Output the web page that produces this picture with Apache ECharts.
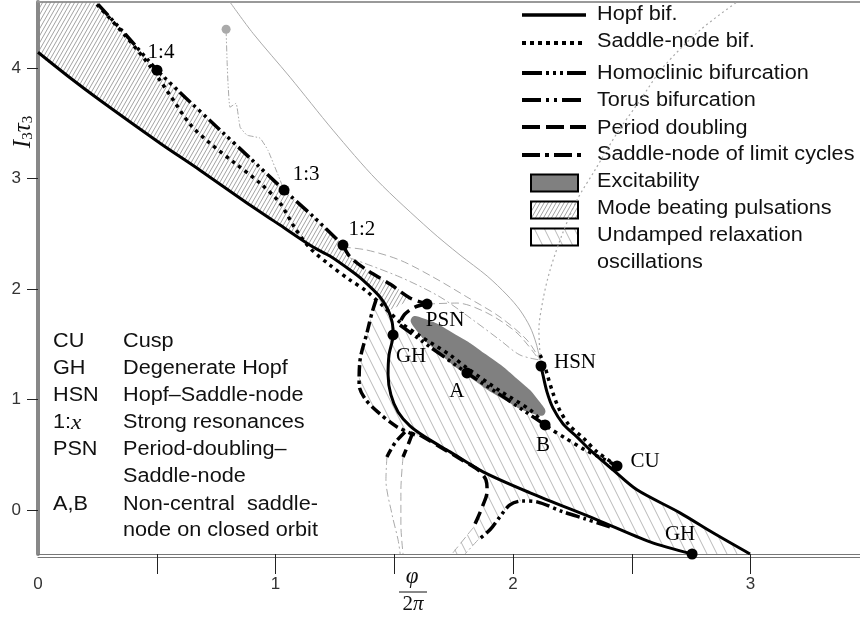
<!DOCTYPE html>
<html>
<head>
<meta charset="utf-8">
<script src="https://cdn.jsdelivr.net/npm/echarts@6.0.0/dist/echarts.min.js"></script>
<style>html,body{margin:0;padding:0;background:#fff}#c{width:860px;height:619px}</style>
</head>
<body>
<div id="c"></div>
<script>
// ---------------- DATA (x = phi/2pi, y = I3*tau3) ----------------
const X_MAX = 3.461, Y_MIN = -0.4, Y_MAX = 4.6;
const xTickValues = [0.5, 1, 1.5, 2, 2.5, 3];
const xLabelValues = [0, 1, 2, 3];
const yTickValues = [0, 1, 2, 3, 4];

const hopfMain = [[0,4.145],[0.143,3.900],[0.261,3.710],[0.514,3.321],[0.682,3.077],[0.863,2.805],[1.019,2.579],[1.158,2.380],[1.229,2.299],[1.314,2.172],[1.368,2.081],[1.440,1.928],[1.474,1.810],[1.491,1.701],[1.495,1.584],[1.478,1.403],[1.474,1.222],[1.486,1.041],[1.516,0.887],[1.566,0.760],[1.629,0.661],[1.735,0.525],[1.874,0.344],[2.072,0.154],[2.354,-0.090],[2.577,-0.290],[2.754,-0.400]];
const hopfRight = [[2.114,1.339],[2.126,1.222],[2.143,1.068],[2.168,0.923],[2.211,0.778],[2.269,0.661],[2.324,0.543],[2.421,0.362],[2.522,0.181],[2.703,-0.027],[2.842,-0.208],[2.998,-0.400]];
const snMain = [[0.248,4.579],[0.366,4.299],[0.472,4.018],[0.556,3.756],[0.640,3.493],[0.724,3.321],[0.829,3.140],[0.935,2.959],[1.019,2.778],[1.082,2.552],[1.145,2.371],[1.229,2.217],[1.314,2.081],[1.377,1.991],[1.453,1.846],[1.524,1.701],[1.608,1.575],[1.735,1.403],[1.806,1.285],[1.945,1.077],[2.072,0.905],[2.147,0.751],[2.219,0.652],[2.303,0.543],[2.379,0.462],[2.438,0.398]];
const snCusp = [[2.438,0.398],[2.354,0.525],[2.295,0.652],[2.236,0.769],[2.194,0.914],[2.168,1.059],[2.147,1.204],[2.131,1.321],[2.114,1.403]];
const snGrey = [[2.114,1.403],[2.109,1.629],[2.126,1.900],[2.156,2.172],[2.206,2.489],[2.269,2.805],[2.345,3.077],[2.438,3.412],[2.535,3.710],[2.632,4.009],[2.787,4.344],[2.943,4.600]];
const homUpper = [[0.253,4.579],[0.379,4.281],[0.501,3.982],[0.619,3.738],[0.754,3.466],[0.893,3.186],[1.036,2.896],[1.166,2.643],[1.284,2.398]];
const homLower = [[1.524,1.674],[1.651,1.475],[1.806,1.240],[1.966,1.014],[2.135,0.769]];
const pdUpper = [[1.284,2.398],[1.314,2.290],[1.385,2.172],[1.482,2.045],[1.566,1.919],[1.638,1.864]];
const pdHook = [[1.638,1.864],[1.587,1.837],[1.545,1.774],[1.524,1.701]];
const pdLower = [[1.608,0.679],[1.693,0.570],[1.785,0.452],[1.853,0.362],[1.886,0.271],[1.891,0.163],[1.874,0.045],[1.848,-0.090],[1.832,-0.163]];
const pdBranch = [[1.579,0.706],[1.558,0.588],[1.537,0.479]];
const snlcLoop = [[1.423,1.900],[1.406,1.783],[1.385,1.602],[1.356,1.357],[1.352,1.131],[1.381,0.995],[1.440,0.869],[1.512,0.751],[1.587,0.679]];
const snlcBranch = [[1.545,0.706],[1.503,0.606],[1.469,0.479]];
const torus = [[2.408,-0.154],[2.303,-0.081],[2.211,-0.018],[2.101,0.072],[2.038,0.081],[1.987,0.045],[1.945,-0.063],[1.903,-0.181],[1.853,-0.271]];

const greySolid = [[0.808,4.600],[0.905,4.317],[1.061,3.919],[1.242,3.439],[1.427,2.986],[1.651,2.534],[1.777,2.308],[1.891,2.118],[1.975,1.946],[2.029,1.810],[2.072,1.656],[2.097,1.511],[2.114,1.357]];
const greyDashed = [[1.284,2.380],[1.385,2.353],[1.524,2.262],[1.663,2.109],[1.806,1.928],[1.945,1.747],[2.059,1.538],[2.114,1.357]];
const greyDashDot = [[1.314,2.281],[1.524,2.109],[1.693,1.928],[1.832,1.719],[1.945,1.538],[2.029,1.403],[2.114,1.357]];
const greyPsn = [[1.638,1.864],[1.764,1.873],[1.891,1.783],[2.017,1.602],[2.101,1.385]];
const greyRes = [[0.792,4.344],[0.796,4.072],[0.800,3.864],[0.808,3.647],[0.834,3.683],[0.851,3.466],[0.880,3.394],[0.935,3.367],[0.968,3.258],[1.011,3.032],[1.036,2.896]];
const greyLeftA = [[1.469,0.479],[1.465,0.271],[1.491,-0.045],[1.516,-0.271],[1.525,-0.400]];
const greyLeftB = [[1.537,0.479],[1.528,0.181],[1.528,-0.136],[1.537,-0.400]];
const greyPd = [[1.832,-0.163],[1.743,-0.400]];
const greyTorus = [[1.853,-0.271],[1.798,-0.400]];
const greyDot = [[0.792,4.353]];

const excitability = [[2.133,0.869],[2.078,0.876],[1.963,0.997],[1.818,1.200],[1.683,1.432],[1.593,1.627],[1.573,1.738],[1.627,1.730],[1.742,1.609],[1.887,1.406],[2.023,1.175],[2.112,0.979]];

const pointNames = ['1:4','1:3','1:2','PSN','GH','A','B','HSN','CU','GH'];
const pointCoords = [[0.501,3.982],[1.036,2.896],[1.284,2.398],[1.638,1.864],[1.495,1.584],[1.806,1.240],[2.135,0.769],[2.118,1.303],[2.438,0.398],[2.754,-0.400]];

const legendNames = ['Hopf bif.','Saddle-node bif.','Homoclinic bifurcation','Torus bifurcation','Period doubling','Saddle-node of limit cycles','Excitability','Mode beating pulsations','Undamped relaxation','oscillations'];
const abbrevKeys = ['CU','GH','HSN','1:x','PSN','','A,B',''];
const abbrevTexts = ['Cusp','Degenerate Hopf','Hopf\u2013Saddle-node','Strong resonances','Period-doubling\u2013','Saddle-node','Non-central  saddle-','node on closed orbit'];

// Regions built from the curves above
const modeBeatingRegion = [[0, Y_MAX],[homUpper[0][0], Y_MAX]]
  .concat(homUpper, pdUpper.slice(1,5), [hopfMain[12]], hopfMain.slice(0,12).reverse());
const undampedRegion = [].concat(
  snlcLoop, hopfMain.slice(20),
  [hopfRight[11]], hopfRight.slice(6,11).reverse(),
  [snMain[22], snMain[21]], homLower.slice().reverse(),
  [hopfMain[13], hopfMain[12], hopfMain[11]]);
const undampedRegion2 = [].concat(
  [hopfMain[22], hopfMain[23]], torus.slice(3),
  [greyTorus[1], greyPd[1]], pdLower.slice(3).reverse());

// ---------------- STYLES ----------------
const SERIF = '"Liberation Serif", "DejaVu Serif", serif';
const SANS = '"Liberation Sans", Arial, sans-serif';
const LS = {
  hopf: {color:'#000', width:3},
  sn: {color:'#000', width:3.5, type:[3.5,4.5]},
  hom: {color:'#000', width:3.5, type:[15,4,3,4,3,4,3,4]},
  torus: {color:'#000', width:3.5, type:[14,4,3,4,3,4]},
  pd: {color:'#000', width:3.5, type:[13,6]},
  snlc: {color:'#000', width:3.5, type:[11,4,3.5,4]},
  gSolid: {color:'#aaa', width:1},
  gDash: {color:'#aaa', width:1, type:[8,4]},
  gDashDot: {color:'#aaa', width:1, type:[8,3,2,3]},
  gDot: {color:'#aaa', width:1.2, type:[2,3]},
  gDDD: {color:'#aaa', width:1, type:[6,2,1.5,2,1.5,2]}
};
const LABEL_OFFSETS = [[4,-18],[22,-16],[19,-16],[18,16],[18,22],[-10,19],[-2,21],[34,-4],[28,-4],[-12,-20]];

function hatch(w, h, color, lw, dir) {
  const c = document.createElement('canvas');
  c.width = w; c.height = h;
  const g = c.getContext('2d');
  g.strokeStyle = color; g.lineWidth = lw;
  g.beginPath();
  for (const k of [-1, 0, 1]) {
    if (dir === '/') { g.moveTo(k*w, h); g.lineTo(k*w + w, 0); }
    else { g.moveTo(k*w, 0); g.lineTo(k*w + w, h); }
  }
  g.stroke();
  return {image: c, repeat: 'repeat'};
}
const DENSE = hatch(4, 7, '#8a8a8a', 0.8, '/');
const SPARSE = hatch(10, 20, '#b0b0b0', 0.9, '\\');

function lineSeries(name, data, st, z, smooth) {
  return {type:'line', name, data, symbol:'none', showSymbol:false, smooth: smooth == null ? 0.3 : smooth,
    lineStyle: Object.assign({cap:'butt', join:'round'}, st), z: z, silent:true, animation:false};
}
function polySeries(name, pts, fill, z, smooth) {
  return {type:'custom', name, coordinateSystem:'cartesian2d', data:[[pts[0][0], pts[0][1]]], z: z, silent:true, clip:true,
    renderItem: function(params, api) {
      return {type:'polygon', shape:{points: pts.map(p => api.coord(p)), smooth: smooth}, style:{fill: fill, stroke: null}};
    }};
}

const series = [
  polySeries('Mode beating pulsations', modeBeatingRegion, DENSE, 1, 0.2),
  polySeries('Undamped relaxation oscillations', undampedRegion, SPARSE, 1, 0.2),
  polySeries('Undamped relaxation oscillations 2', undampedRegion2, SPARSE, 1, 0.2),
  polySeries('Excitability', excitability, '#808080', 2, 0.6),
  lineSeries('grey1', greySolid, LS.gSolid, 3),
  lineSeries('grey2', greyDashed, LS.gDash, 3),
  lineSeries('grey3', greyDashDot, LS.gDashDot, 3),
  lineSeries('grey4', greyPsn, LS.gDash, 3),
  lineSeries('grey5', greyRes, LS.gDDD, 3, 0.1),
  lineSeries('grey6', greyLeftA, LS.gDashDot, 3),
  lineSeries('grey7', greyLeftB, LS.gDash, 3),
  lineSeries('grey8', greyPd, LS.gDash, 3),
  lineSeries('grey9', greyTorus, LS.gDashDot, 3),
  lineSeries('grey10', snGrey, LS.gDot, 3),
  lineSeries('Hopf bif.', hopfMain, LS.hopf, 5),
  lineSeries('Hopf bif. (right)', hopfRight, LS.hopf, 5),
  lineSeries('Saddle-node bif.', snMain, LS.sn, 5),
  lineSeries('Saddle-node bif. (cusp)', snCusp, LS.sn, 5),
  lineSeries('Homoclinic bifurcation', homUpper, LS.hom, 5, 0.1),
  lineSeries('Homoclinic bifurcation (A-B)', homLower, LS.hom, 5, 0.1),
  lineSeries('Period doubling', pdUpper, LS.pd, 5),
  lineSeries('Period doubling (hook)', pdHook, LS.pd, 5),
  lineSeries('Period doubling (lower)', pdLower, LS.pd, 5),
  lineSeries('Period doubling (branch)', pdBranch, LS.pd, 5),
  lineSeries('Saddle-node of limit cycles', snlcLoop, LS.snlc, 5),
  lineSeries('Saddle-node of limit cycles (branch)', snlcBranch, LS.snlc, 5),
  lineSeries('Torus bifurcation', torus, LS.torus, 5),
  {type:'scatter', name:'grey point', data: greyDot, symbolSize:9, itemStyle:{color:'#aaa', opacity:1}, z:6, silent:true, clip:false},
  {type:'scatter', name:'points', symbolSize:11, itemStyle:{color:'#000', opacity:1}, z:7, silent:true, clip:false,
    label:{show:true, position:'inside', formatter:'{b}', fontFamily:SERIF, fontSize:21, color:'#000', opacity:1},
    data: pointCoords.map((c, i) => ({name: pointNames[i], value: c, label:{offset: LABEL_OFFSETS[i], color:'#000'}}))}
];

// ---------------- graphic: legend, notes, axis names ----------------
const graphic = [];
const LEG_X = 597, LEG_SCALE = 1.11, FS = 19.5;
const legLineY = [15, 43, 73, 100, 127, 155];
const legLineDash = [null, [4,4], [20,4,3,4,3,4,3,4], [19,5,3,5,3,5], [18,6], [18,5,4,5]];
legLineY.forEach((y, i) => {
  graphic.push({type:'line', shape:{x1:522, y1:y, x2:586, y2:y},
    style:{stroke:'#000', lineWidth: i === 0 ? 3.5 : 4, lineDash: legLineDash[i], lineCap:'butt'}});
});
const legRectY = [183, 210, 237];
const legRectFill = ['#808080', DENSE, SPARSE];
legRectY.forEach((y, i) => {
  graphic.push({type:'rect', shape:{x:531, y:y-8.5, width:47, height:17},
    style:{fill: legRectFill[i], stroke:'#000', lineWidth:2}});
});
const legTextY = [15, 42, 74, 101, 129, 155, 182, 209, 236, 263];
legendNames.forEach((t, i) => {
  graphic.push({type:'text', x:LEG_X, y:legTextY[i], scaleX:LEG_SCALE,
    style:{text:t, fontFamily:SANS, fontSize:FS, fill:'#111', align:'left', verticalAlign:'middle'}});
});
const noteY = [342, 369, 396, 423, 450, 477, 505, 531];
abbrevKeys.forEach((k, i) => {
  if (k === '1:x') {
    graphic.push({type:'text', x:53, y:noteY[i], scaleX:LEG_SCALE,
      style:{text:'{a|1:}{m|x}', rich:{a:{fontFamily:SANS, fontSize:FS, fill:'#111'}, m:{fontFamily:SERIF, fontStyle:'italic', fontSize:21, fill:'#111'}}, align:'left', verticalAlign:'middle'}});
  } else if (k) {
    graphic.push({type:'text', x:53, y:noteY[i], scaleX:LEG_SCALE,
      style:{text:k, fontFamily:SANS, fontSize:FS, fill:'#111', align:'left', verticalAlign:'middle'}});
  }
  graphic.push({type:'text', x:123, y:noteY[i], scaleX:LEG_SCALE,
    style:{text:abbrevTexts[i], fontFamily:SANS, fontSize:FS, fill:'#111', align:'left', verticalAlign:'middle'}});
});
// y axis name  I3 tau3
graphic.push({type:'text', x:22, y:132, rotation:Math.PI/2,
  style:{text:'{i|I}{s|3}{i|\u03c4}{s|3}', align:'center', verticalAlign:'middle',
    rich:{i:{fontFamily:SERIF, fontStyle:'italic', fontSize:25, lineHeight:28, verticalAlign:'bottom', fill:'#111'},
          s:{fontFamily:SERIF, fontSize:15, lineHeight:10, verticalAlign:'bottom', fill:'#111'}}}});
// x axis name  phi / 2pi
graphic.push({type:'text', x:412, y:577, style:{text:'\u03c6', fontFamily:SERIF, fontStyle:'italic', fontSize:23, fill:'#111', align:'center', verticalAlign:'middle'}});
graphic.push({type:'line', shape:{x1:399, y1:592, x2:427, y2:592}, style:{stroke:'#111', lineWidth:1}});
graphic.push({type:'text', x:413, y:604, style:{text:'{a|2}{b|\u03c0}', align:'center', verticalAlign:'middle',
  rich:{a:{fontFamily:SERIF, fontSize:21, fill:'#111'}, b:{fontFamily:SERIF, fontStyle:'italic', fontSize:21, fill:'#111'}}}});

// ---------------- chart ----------------
const chart = echarts.init(document.getElementById('c'), null, {renderer:'canvas'});
const hidden = {axisTick:{show:false}, axisLabel:{show:false}, splitLine:{show:false}};
chart.setOption({
  animation:false,
  backgroundColor:'#fff',
  grid:{left:38, right:0, top:2, height:552, containLabel:false},
  xAxis:[
    {type:'value', min:0, max:X_MAX, position:'bottom',
     axisLine:{show:true, onZero:false, lineStyle:{color:'#777', width:1}},
     axisTick:{show:true, customValues:xTickValues, length:20, lineStyle:{color:'#222', width:1}},
     axisLabel:{customValues:xLabelValues, margin:22, fontSize:17, color:'#333', fontFamily:SANS},
     splitLine:{show:false}},
    Object.assign({type:'value', min:0, max:X_MAX, position:'bottom', offset:3,
     axisLine:{show:true, onZero:false, lineStyle:{color:'#777', width:1}}}, hidden),
    Object.assign({type:'value', min:0, max:X_MAX, position:'top',
     axisLine:{show:true, onZero:false, lineStyle:{color:'#999', width:2}}}, hidden)
  ],
  yAxis:{type:'value', min:Y_MIN, max:Y_MAX,
    axisLine:{show:true, onZero:false, lineStyle:{color:'#888', width:4}},
    axisTick:{show:true, customValues:yTickValues, length:11, lineStyle:{color:'#222', width:1}},
    axisLabel:{customValues:yTickValues, margin:17, fontSize:17, color:'#333', fontFamily:SANS},
    splitLine:{show:false}},
  series: series,
  graphic: graphic
});
</script>
</body>
</html>
